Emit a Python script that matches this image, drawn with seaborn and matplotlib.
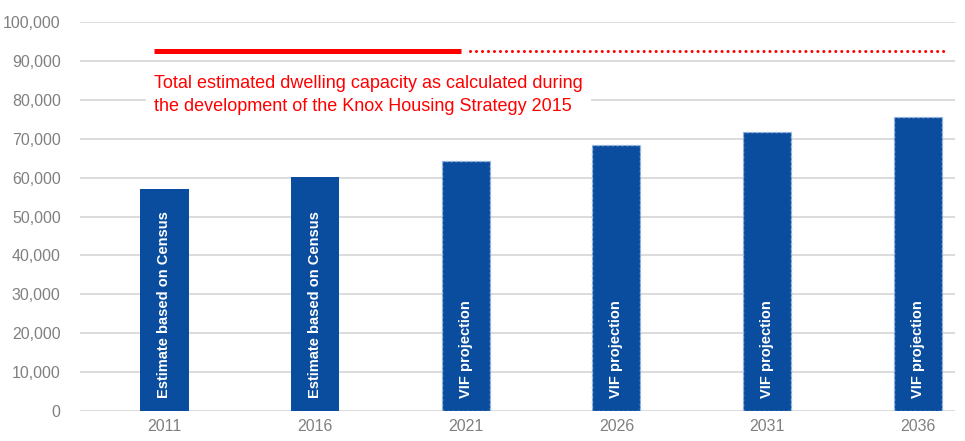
import matplotlib
matplotlib.use("Agg")
import matplotlib.pyplot as plt
import seaborn as sns
import pandas as pd
from matplotlib.ticker import FuncFormatter

# dati
years = ["2011", "2016", "2021", "2026", "2031", "2036"]
dwellings = [57100, 60200, 64300, 68400, 71700, 75600]
bar_labels = ["Estimate based on Census", "Estimate based on Census",
              "VIF projection", "VIF projection", "VIF projection", "VIF projection"]
is_projection = [False, False, True, True, True, True]
capacity = 92500
capacity_text = ("Total estimated dwelling capacity as calculated during\n"
                 "the development of the Knox Housing Strategy 2015")

df = pd.DataFrame({"Year": years, "Dwellings": dwellings})

sns.set_style("white")
plt.rcParams["font.family"] = ["Liberation Sans", "DejaVu Sans"]

fig, ax = plt.subplots(figsize=(9.65, 4.41), dpi=100)
fig.subplots_adjust(left=0.083, right=0.99, top=0.95, bottom=0.068)

blue = "#0A4D9E"
sns.barplot(data=df, x="Year", y="Dwellings", color=blue, width=0.32,
            saturation=1, ax=ax, zorder=2)

# bordo tratteggiato per le proiezioni
for patch, proj in zip(ax.patches, is_projection):
    patch.set_facecolor(blue)
    if proj:
        patch.set_edgecolor("#9DBCE3")
        patch.set_linestyle((0, (2, 1.5)))
        patch.set_linewidth(1.0)
    else:
        patch.set_edgecolor(blue)
        patch.set_linewidth(0)

# etichette dentro le barre
for i, lab in enumerate(bar_labels):
    ax.text(i, 3300, lab, rotation=90, ha="center", va="bottom",
            color="white", fontsize=10.5, fontweight="bold", zorder=3)

# linea capacita' totale: piena fino al 2021, poi punteggiata
ax.plot([-0.07, 1.97], [capacity, capacity], color="#FF0000", lw=3.6,
        solid_capstyle="butt", zorder=3)
ax.plot([2.03, 5.2], [capacity, capacity], color="#FF0000", lw=2.2,
        linestyle=(0, (0.01, 1.95)), dash_capstyle="round", zorder=3)

ax.text(-0.07, 81200, capacity_text, color="#FF0000", fontsize=13,
        ha="left", va="center", linespacing=1.5, zorder=3,
        bbox=dict(facecolor="white", edgecolor="none", pad=6))

ax.set_ylim(0, 100000)
ax.set_xlim(-0.56, 5.25)
ax.set_yticks(range(0, 100001, 10000))
ax.yaxis.set_major_formatter(FuncFormatter(lambda v, p: f"{int(v):,}"))
ax.grid(axis="y", color="#D9D9D9", lw=1.3, zorder=0)
ax.set_axisbelow(True)
ax.set_xlabel("")
ax.set_ylabel("")
ax.tick_params(axis="both", colors="#808080", labelsize=11.5, length=0)
ax.tick_params(axis="y", pad=14)
ax.tick_params(axis="x", pad=6)
sns.despine(ax=ax, left=True, bottom=True)

fig.savefig("out.png", dpi=100)
plt.close(fig)
